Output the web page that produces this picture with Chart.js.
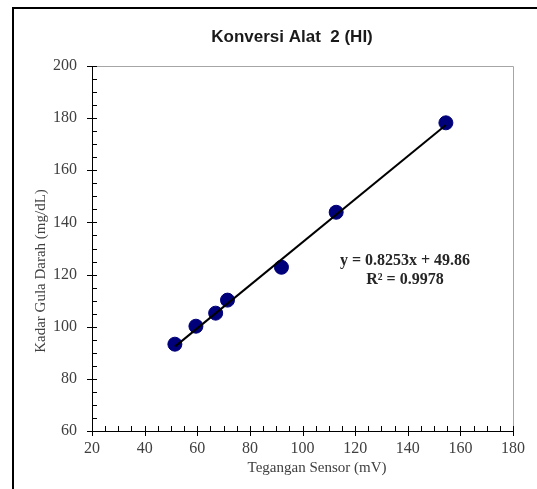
<!DOCTYPE html>
<html>
<head>
<meta charset="utf-8">
<script src="https://cdn.jsdelivr.net/npm/chart.js@4.4.1/dist/chart.umd.min.js"></script>
<style>
  html, body { margin: 0; padding: 0; background: #fff; }
  #wrap { width: 537px; height: 489px; position: relative; }
</style>
</head>
<body>
<div id="wrap"><canvas id="chart" width="537" height="489"></canvas></div>
<script>
// data
const sensorMv = [51.5, 59.5, 67, 71.5, 92, 112.8, 154.5];
const glucose = [93.3, 100.2, 105.2, 110.2, 122.8, 143.9, 178.2];
const xTicks = [20, 40, 60, 80, 100, 120, 140, 160, 180];
const yTicks = [60, 80, 100, 120, 140, 160, 180, 200];
const slope = 0.8253;
const intercept = 49.86;
const rSquared = 0.9978;

const titleText = 'Konversi Alat  2 (HI)';
const xTitle = 'Tegangan Sensor (mV)';
const yTitle = 'Kadar Gula Darah (mg/dL)';

const serif = '"Liberation Serif", "Times New Roman", serif';
const sans = '"Liberation Sans", Arial, sans-serif';

// trendline between first and last x
const xFirst = sensorMv[0];
const xLast = sensorMv[sensorMv.length - 1];
const trend = [
    { x: xFirst, y: slope * xFirst + intercept },
    { x: xLast, y: slope * xLast + intercept }
];

const framePlugin = {
    id: 'framePlugin',
    beforeDatasetsDraw(chart) {
        const { ctx, chartArea: a } = chart;
        ctx.save();
        // plot area top/right edge
        ctx.strokeStyle = '#a6a6a6';
        ctx.lineWidth = 1;
        ctx.beginPath();
        ctx.moveTo(a.left, a.top + 0.5);
        ctx.lineTo(a.right + 0.5, a.top + 0.5);
        ctx.lineTo(a.right + 0.5, a.bottom);
        ctx.stroke();
        ctx.restore();
    },
    afterDraw(chart) {
        const { ctx, chartArea: a, scales: { x, y } } = chart;
        ctx.save();

        // outer frame (only top and left visible)
        ctx.strokeStyle = '#000';
        ctx.lineWidth = 2;
        ctx.beginPath();
        ctx.moveTo(13, 489);
        ctx.lineTo(13, 8);
        ctx.lineTo(537, 8);
        ctx.stroke();

        // axis tick marks, major every 20, minor every 5
        ctx.strokeStyle = '#000';
        ctx.lineWidth = 1;
        ctx.beginPath();
        for (let v = xTicks[0]; v <= xTicks[xTicks.length - 1]; v += 5) {
            const px = Math.round(x.getPixelForValue(v)) + 0.5;
            const major = v % 20 === 0;
            ctx.moveTo(px, a.bottom + (major ? 5 : 0));
            ctx.lineTo(px, a.bottom - 5);
        }
        for (let v = yTicks[0]; v <= yTicks[yTicks.length - 1]; v += 5) {
            const py = Math.round(y.getPixelForValue(v)) + 0.5;
            const major = v % 20 === 0;
            ctx.moveTo(a.left - (major ? 5 : 0), py);
            ctx.lineTo(a.left + 5, py);
        }
        ctx.stroke();

        // chart title
        ctx.fillStyle = '#1a1a1a';
        ctx.font = 'bold 17px ' + sans;
        ctx.textAlign = 'center';
        ctx.textBaseline = 'middle';
        ctx.fillText(titleText, 292, 37);

        // axis titles
        ctx.fillStyle = '#404040';
        ctx.font = '15px ' + serif;
        ctx.fillText(xTitle, 317, 468);
        ctx.save();
        ctx.translate(41, 271);
        ctx.rotate(-Math.PI / 2);
        ctx.fillText(yTitle, 0, 0);
        ctx.restore();

        // regression label
        ctx.fillStyle = '#262626';
        ctx.font = 'bold 16px ' + serif;
        ctx.fillText('y = ' + slope + 'x + ' + intercept, 405, 261);
        ctx.fillText('R\u00B2 = ' + rSquared, 405, 280);

        ctx.restore();
    }
};

new Chart(document.getElementById('chart'), {
    type: 'scatter',
    data: {
        datasets: [
            {
                type: 'line',
                data: trend,
                borderColor: '#000',
                borderWidth: 2,
                pointRadius: 0,
                fill: false,
                order: 0
            },
            {
                data: sensorMv.map((v, i) => ({ x: v, y: glucose[i] })),
                backgroundColor: '#00007a',
                borderColor: '#00007a',
                pointRadius: 7,
                pointHoverRadius: 7,
                order: 1
            }
        ]
    },
    options: {
        responsive: false,
        animation: false,
        events: [],
        layout: { padding: { top: 66, right: 24, left: 0, bottom: 0 } },
        plugins: {
            legend: { display: false },
            tooltip: { enabled: false },
            title: { display: false }
        },
        scales: {
            x: {
                type: 'linear',
                min: xTicks[0],
                max: xTicks[xTicks.length - 1],
                afterFit: (s) => { s.height = 58; },
                afterBuildTicks: (s) => { s.ticks = xTicks.map(v => ({ value: v })); },
                grid: { display: false, drawTicks: false },
                border: { display: true, color: '#000', width: 1 },
                ticks: {
                    padding: 8,
                    color: '#404040',
                    font: { family: serif, size: 16 },
                    maxRotation: 0
                }
            },
            y: {
                type: 'linear',
                min: yTicks[0],
                max: yTicks[yTicks.length - 1],
                afterFit: (s) => { s.width = 92; },
                afterBuildTicks: (s) => { s.ticks = yTicks.map(v => ({ value: v })); },
                grid: { display: false, drawTicks: false },
                border: { display: true, color: '#000', width: 1 },
                ticks: {
                    padding: 15,
                    color: '#404040',
                    font: { family: serif, size: 16 }
                }
            }
        }
    },
    plugins: [framePlugin]
});
</script>
</body>
</html>
